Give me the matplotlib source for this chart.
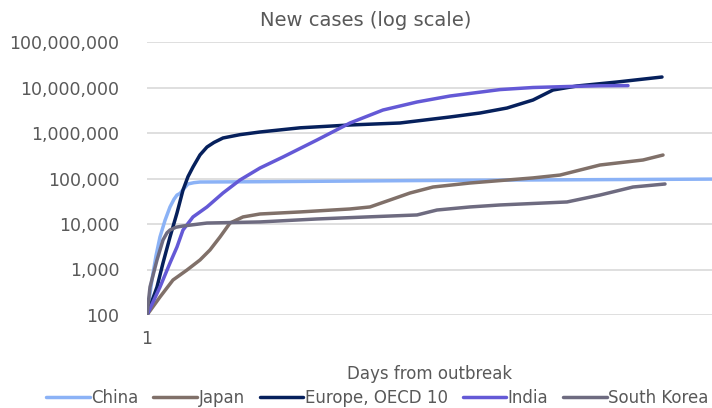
import matplotlib
matplotlib.use("Agg")
import matplotlib.pyplot as plt
from matplotlib.ticker import FixedLocator, FuncFormatter

title = "New cases (log scale)"
xlabel = "Days from outbreak"
series_names = ["China", "Japan", "Europe, OECD 10", "India", "South Korea"]
colors = ["#8BB2F6", "#807069", "#06205C", "#6459D6", "#6E6B80"]

china_days = [1, 6, 10, 14, 19, 24, 28, 31, 34, 38, 42, 48, 54, 114, 300, 566]
china_vals = [100, 600, 2000, 5200, 12000, 23700, 35000, 43300, 47000, 60000, 76000, 81000, 83700, 85000, 91000, 97000]

japan_days = [1, 14, 27, 41, 54, 64, 74, 84, 97, 114, 154, 204, 224, 244, 264, 287, 324, 387, 414, 454, 497, 517]
japan_vals = [100, 249, 588, 975, 1620, 2690, 5180, 10500, 14300, 16600, 18400, 21400, 23700, 33700,
              48000, 65000, 79600, 103000, 119000, 198000, 255000, 328000]

europe_days = [1, 11, 17, 24, 31, 37, 42, 47, 54, 61, 68, 77, 94, 114, 154, 204, 254, 304, 334, 361, 387,
               407, 431, 471, 516]
europe_vals = [100, 412, 1390, 5180, 17500, 55800, 110000, 179000, 330000, 492000, 620000, 777000, 920000,
               1052000, 1300000, 1500000, 1660000, 2250000, 2750000, 3540000, 5310000, 8810000, 10800000,
               13200000, 17000000]

india_days = [1, 14, 24, 31, 37, 47, 61, 77, 94, 114, 137, 171, 204, 237, 271, 304, 354, 387, 421, 454, 482]
india_vals = [100, 412, 1390, 3130, 7380, 14300, 23700, 48000, 92700, 170000, 297000, 702000, 1660000,
              3200000, 4800000, 6500000, 9000000, 10000000, 10500000, 10900000, 11000000]

korea_days = [1, 4, 11, 17, 21, 24, 30, 37, 61, 114, 171, 221, 271, 291, 324, 354, 421, 454, 487, 519]
korea_vals = [100, 412, 1620, 4450, 6400, 7380, 8500, 9040, 10500, 11100, 12900, 14300, 15800, 20300, 23700,
              26200, 30500, 43300, 65000, 75700]

y_ticks = [100, 1000, 10000, 100000, 1000000, 10000000, 100000000]
x_tick_labels = ["1"]

plt.rcParams['font.family'] = ['DejaVu Sans']
text_color = "#595959"

fig = plt.figure(figsize=(7.12, 4.08), dpi=100)
ax = fig.add_axes([147/712, (408-315)/408, 1 - 147/712, (315-42)/408])

data = [(china_days, china_vals), (japan_days, japan_vals), (europe_days, europe_vals),
        (india_days, india_vals), (korea_days, korea_vals)]
for (d, v), name, c in zip(data, series_names, colors):
    ax.plot(d, v, color=c, lw=2.5, label=name, solid_capstyle='round', solid_joinstyle='round')

ax.set_yscale('log')
ax.set_ylim(100, 100000000)
ax.set_xlim(1, 566)
ax.yaxis.set_major_locator(FixedLocator(y_ticks))
ax.yaxis.set_minor_locator(FixedLocator([]))
ax.yaxis.set_major_formatter(FuncFormatter(lambda v, p: f"{int(round(v)):,}"))
ax.set_xticks([1])
ax.set_xticklabels(x_tick_labels)
ax.grid(axis='y', color='#D9D9D9', lw=1.2)
ax.set_axisbelow(True)
for s in ax.spines.values():
    s.set_visible(False)
ax.tick_params(axis='both', length=0, colors=text_color, labelsize=12.5)
ax.tick_params(axis='y', pad=20)
ax.tick_params(axis='x', pad=11)
ax.set_xlabel(xlabel, color=text_color, fontsize=12, labelpad=12)

fig.text(366/712, 1 - 20/408, title, ha='center', va='center', color=text_color, fontsize=14)

leg = fig.legend(loc='lower center', bbox_to_anchor=(0.53, -0.035), ncol=5, frameon=False,
                 fontsize=12, handlelength=2.6, columnspacing=0.9, handletextpad=0.1)
for t in leg.get_texts():
    t.set_color(text_color)

fig.savefig("out.png", dpi=100)
